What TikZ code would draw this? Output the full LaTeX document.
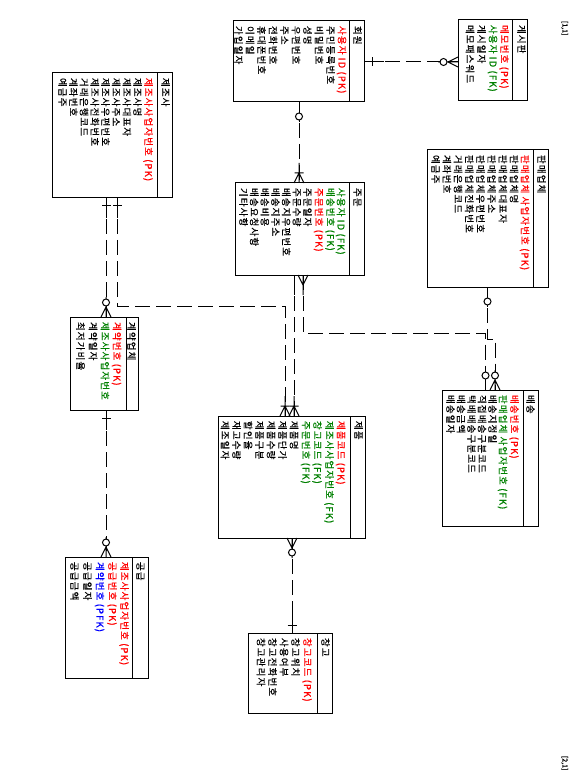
\documentclass[tikz,border=0pt]{standalone}
\usepackage{fontspec}
\newfontfamily\kr[LetterSpace=12,FakeBold=0.6]{Noto Sans CJK KR}
\newfontfamily\krn[FakeBold=0.4]{Noto Sans CJK KR}
\definecolor{pkred}{RGB}{255,0,0}
\definecolor{fkgreen}{RGB}{0,128,0}
\definecolor{pfkblue}{RGB}{0,0,255}
\tikzset{
  ebox/.style={draw, line width=1pt, rectangle, anchor=north west, inner sep=0pt, outer sep=0pt},
  divline/.style={line width=1pt},
  attr/.style={rotate=-90, anchor=north west, inner sep=0pt, outer sep=0pt,
    font=\kr\fontsize{9.5}{10}\selectfont, text height=8pt, text depth=2pt},
  pk/.style={attr, text=pkred},
  fk/.style={attr, text=fkgreen},
  pfk/.style={attr, text=pfkblue},
  conn/.style={line width=1pt, dash pattern=on 15pt off 6pt},
  mk/.style={line width=1pt, solid},
  pics/pbar/.style={code={\draw[mk] (0,0)--(20,0) (8,-4.5)--(8,4.5);}},
  pics/pcirc/.style={code={\draw[mk] (0,0)--(20,0); \draw[mk,fill=white] (14.5,0) circle[radius=3.5];}},
  pics/pcrow/.style={code={\draw[mk] (0,0)--(20,0) (0,-5)--(10,0)--(0,5);}},
  pics/pcrowcirc/.style={code={\draw[mk] (0,0)--(20,0) (0,-5)--(10,0)--(0,5); \draw[mk,fill=white] (14.5,0) circle[radius=3.5];}},
  pics/pcrowbar/.style={code={\draw[mk] (0,0)--(20,0) (0,-5)--(10,0)--(0,5) (10,-4.5)--(10,4.5);}},
  pics/pline/.style={code={\draw[mk] (0,0)--(20,0);}},
}
\begin{document}
\begin{tikzpicture}[x=1pt,y=-1pt]
\fill[white] (0,0) rectangle (578,783);
\useasboundingbox (0,0) rectangle (578,783);

% ---------- helper coordinates ----------
\coordinate (yC1) at (0,62);
\coordinate (xC2) at (299,0);
\coordinate (xC3) at (294,0);
\coordinate (xC4) at (303,0);
\coordinate (c4) at (485.5,333);
\coordinate (c5a) at (487.5,339);
\coordinate (c5b) at (495,339);
\coordinate (xC6) at (106,0);
\coordinate (c7a) at (117,306);
\coordinate (c7b) at (285,306);
\coordinate (xC9) at (292,0);

% ---------- entity boxes ----------
\node[ebox, minimum width=69pt,  minimum height=81pt]  (board)    at (458,20)  {};
\node[ebox, minimum width=131pt, minimum height=81pt]  (member)   at (233,21)  {};
\node[ebox, minimum width=129pt, minimum height=92pt]  (order)    at (235,183) {};
\node[ebox, minimum width=147pt, minimum height=122pt] (product)  at (218,416) {};
\node[ebox, minimum width=121pt, minimum height=137pt] (seller)   at (427,150) {};
\node[ebox, minimum width=120pt, minimum height=125pt] (maker)    at (52,73)   {};
\node[ebox, minimum width=68pt,  minimum height=93pt]  (contract) at (70,317)  {};
\node[ebox, minimum width=83pt,  minimum height=121pt] (supply)   at (65,557)  {};
\node[ebox, minimum width=84pt,  minimum height=80pt]  (storage)  at (248,633) {};
\node[ebox, minimum width=96pt,  minimum height=136pt] (delivery) at (442,390) {};

% ---------- header dividers ----------
\coordinate (dvB) at (512,0);   \draw[divline] (board.north -| dvB) -- (board.south -| dvB);
\coordinate (dvM) at (349,0);   \draw[divline] (member.north -| dvM) -- (member.south -| dvM);
\coordinate (dvO) at (349,0);   \draw[divline] (order.north -| dvO) -- (order.south -| dvO);
\coordinate (dvP) at (350,0);   \draw[divline] (product.north -| dvP) -- (product.south -| dvP);
\coordinate (dvS) at (533,0);   \draw[divline] (seller.north -| dvS) -- (seller.south -| dvS);
\coordinate (dvK) at (157,0);   \draw[divline] (maker.north -| dvK) -- (maker.south -| dvK);
\coordinate (dvC) at (126,0);   \draw[divline] (contract.north -| dvC) -- (contract.south -| dvC);
\coordinate (dvU) at (132,0);   \draw[divline] (supply.north -| dvU) -- (supply.south -| dvU);
\coordinate (dvT) at (317,0);   \draw[divline] (storage.north -| dvT) -- (storage.south -| dvT);
\coordinate (dvD) at (523,0);   \draw[divline] (delivery.north -| dvD) -- (delivery.south -| dvD);

% ---------- connectors ----------
\draw[conn] (member.east |- yC1) -- (board.west |- yC1);
\draw[conn] (member.south -| xC2) -- (order.north -| xC2);
\draw[conn] (order.south -| xC3) -- (product.north -| xC3);
\draw[conn] (order.south -| xC4) |- (c4) -- (delivery.north -| c4);
\draw[conn] (seller.south -| c5a) -- (c5a) -- (c5b) -- (delivery.north -| c5b);
\draw[conn] (maker.south -| xC6) -- (contract.north -| xC6);
\draw[conn] (maker.south -| c7a) -- (c7a) -- (c7b) -- (product.north -| c7b);
\draw[conn] (contract.south -| xC6) -- (supply.north -| xC6);
\draw[conn] (product.south -| xC9) -- (storage.north -| xC9);

% ---------- end marks ----------
\pic at (member.east |- yC1) {pbar};
\pic[rotate=180] at (board.west |- yC1) {pcrowcirc};
\pic[rotate=-90] at (member.south -| xC2) {pcirc};
\pic[rotate=90] at (order.north -| xC2) {pcrowbar};
\pic[rotate=-90] at (order.south -| xC3) {pline};
\pic[rotate=90] at (product.north -| xC3) {pcrowbar};
\pic[rotate=-90] at (order.south -| xC4) {pcrow};
\pic[rotate=90] at (delivery.north -| c4) {pcirc};
\pic[rotate=-90] at (seller.south -| c5a) {pcirc};
\pic[rotate=90] at (delivery.north -| c5b) {pcrowcirc};
\pic[rotate=-90] at (maker.south -| xC6) {pbar};
\pic[rotate=90] at (contract.north -| xC6) {pcrowcirc};
\pic[rotate=-90] at (maker.south -| c7a) {pbar};
\pic[rotate=90] at (product.north -| c7b) {pcrowbar};
\pic[rotate=-90] at (contract.south -| xC6) {pbar};
\pic[rotate=90] at (supply.north -| xC6) {pcrowcirc};
\pic[rotate=-90] at (product.south -| xC9) {pcrowcirc};
\pic[rotate=90] at (storage.north -| xC9) {pbar};

% ---------- texts: 게시판 ----------
\node[attr] (bH) at (526,25) {게시판};
\node[pk] (b1) at (509,25) {메모번호 (PK)};
\node[fk] (b2) at (497.5,25) {사용자 ID (FK)};
\node[attr] (b3) at (486,25) {게시일자};
\node[attr] (b4) at (474.5,25) {메모패스워드};

% ---------- 회원 ----------
\node[attr] (mH) at (362,26) {회원};
\node[pk] (m0) at (346.5,26) {사용자 ID (PK)};
\foreach \t [count=\i from 0] in {주민등록번호,비밀번호,성명,우편번호,주소,전화번호,휴대폰번호,이메일,가입일자}
  \node[attr] (m-\i) at ({335-11.5*\i},26) {\t};

% ---------- 주문 ----------
\node[attr] (oH) at (362,188) {주문};
\node[fk] (o1) at (345.5,188) {사용자 ID (FK)};
\node[fk] (o2) at (335,188) {배송번호 (FK)};
\node[pk] (o3) at (323.5,188) {주문번호 (PK)};
\foreach \t [count=\i from 0] in {주문일자,주문수량,배송지우편번호,배송지주소,배송비용,배송요청사항,기타사항}
  \node[attr] (o-\i) at ({312-10.67*\i},188) {\t};

% ---------- 제품 ----------
\node[attr] (pH) at (363,421) {제품};
\node[pk] (p1) at (345.5,421) {제품코드 (PK)};
\node[fk] (p2) at (334,421) {제조사사업자번호 (FK)};
\node[fk] (p3) at (322,421) {창고코드 (FK)};
\node[fk] (p4) at (310.5,421) {주문번호 (FK)};
\foreach \t [count=\i from 0] in {제품명,제품단가,제품수량,제품구분,할인율,재고수량,제조일자}
  \node[attr] (p-\i) at ({298.5-11.5*\i},421) {\t};

% ---------- 판매업체 ----------
\node[attr] (sH) at (546,155) {판매업체};
\node[pk] (s1) at (529.5,155) {판매업체 사업자번호 (PK)};
\foreach \t [count=\i from 0] in {판매업체명,판매업체대표자,판매업체주소,판매업체우편번호,판매업체전화번호,거래은행코드,계좌번호,예금주}
  \node[attr] (s-\i) at ({518.5-11.2*\i},155) {\t};

% ---------- 제조사 ----------
\node[attr] (kH) at (170,78) {제조사};
\node[pk] (k1) at (153,78) {제조사사업자번호 (PK)};
\foreach \t [count=\i from 0] in {제조사명,제조사대표자,제조사주소,제조사우편번호,제조사전화번호,거래은행코드,계좌번호,예금주}
  \node[attr] (k-\i) at ({142-10.7*\i},78) {\t};

% ---------- 계약업체 ----------
\node[attr] (cH) at (136,322) {계약업체};
\node[pk] (c1) at (121.5,322) {계약번호 (PK)};
\node[fk] (c2) at (109.5,322) {제조사사업자번호};
\node[attr] (c3) at (97.5,322) {계약일자};
\node[attr] (c4t) at (85,322) {최저가비율};

% ---------- 공급 ----------
\node[attr] (uH) at (145,562) {공급};
\node[pk] (u1) at (129,562) {제조사사업자번호 (PK)};
\node[pk] (u2) at (117,562) {공급번호 (PK)};
\node[pfk] (u3) at (104.5,562) {계약번호 (PFK)};
\node[attr] (u4) at (92,562) {공급일자};
\node[attr] (u5) at (79,562) {공급금액};

% ---------- 창고 ----------
\node[attr] (tH) at (330,638) {창고};
\node[pk] (t1) at (312,638) {창고코드 (PK)};
\node[attr] (t2) at (300,638) {창고위치};
\node[attr] (t3) at (288.5,638) {사용여부};
\node[attr] (t4) at (277,638) {창고전화번호};
\node[attr] (t5) at (265.5,638) {창고관리자};

% ---------- 배송 ----------
\node[attr] (dH) at (535,395) {배송};
\node[pk] (d1) at (519,395) {배송번호 (PK)};
\node[fk] (d2) at (507.5,395) {판매업체 사업자번호 (FK)};
\foreach \t [count=\i from 0] in {배송지정일,직접배송구분코드,택배배송구분코드,배송금액,배송일자}
  \node[attr] (d-\i) at ({497-10.5*\i},395) {\t};

% ---------- page labels ----------
\node[attr, font=\krn\fontsize{7}{8}\selectfont, text height=5.5pt] (lab1) at (568,21) {[1,1]};
\node[attr, font=\krn\fontsize{7}{8}\selectfont, text height=5.5pt] (lab2) at (568,756) {[2,1]};
\end{tikzpicture}
\end{document}
